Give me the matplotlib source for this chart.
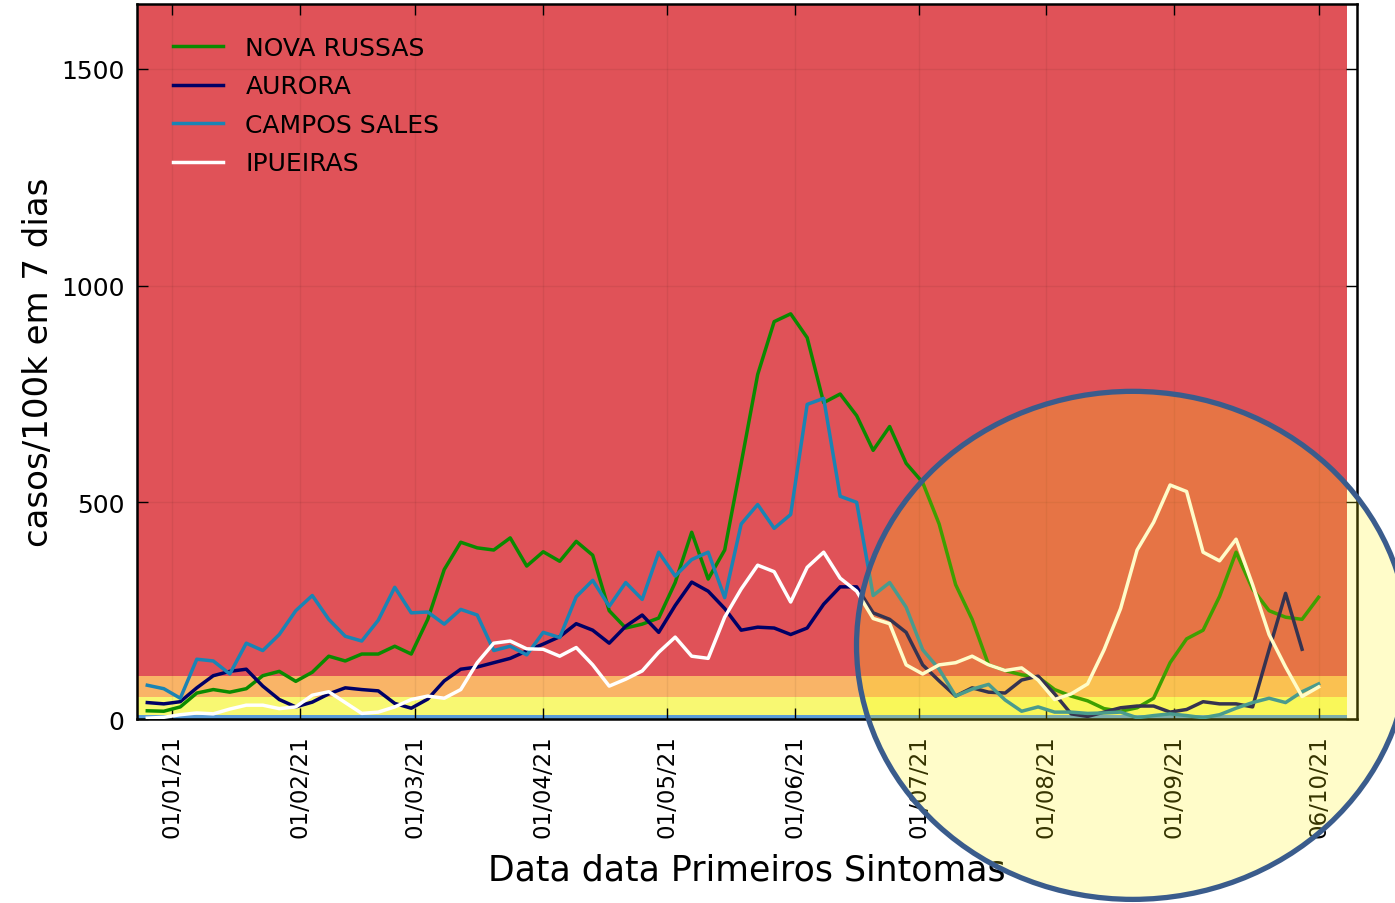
import numpy as np
import pandas as pd
import matplotlib
matplotlib.use("Agg")
import matplotlib.pyplot as plt
import matplotlib.dates as mdates
from matplotlib.patches import Ellipse

# one value every 4 days, 26/12/2020 -> 06/10/2021
dates = pd.date_range("2020-12-26", "2021-10-06", freq="4D")

nova_russas = [19, 18, 28, 60, 68, 62, 70, 100, 110, 87,
               108, 145, 134, 150, 150, 168, 150, 230, 345, 408,
               395, 390, 418, 353, 386, 364, 410, 378, 250, 210,
               219, 233, 315, 431, 323, 390, 590, 795, 917, 935,
               880, 730, 750, 700, 620, 675, 590, 546, 450, 310,
               230, 125, 112, 102, 97, 68, 53, 42, 24, 18,
               26, 48, 130, 185, 205, 283, 385, 300, 250, 235,
               230, 281]
aurora = [38, 35, 40, 72, 100, 110, 115, 76, 45, 28,
          39, 58, 72, 68, 65, 36, 25, 46, 88, 115,
          120, 130, 140, 157, 173, 190, 220, 205, 175, 214,
          240, 200, 262, 316, 295, 255, 205, 212, 210, 195,
          210, 265, 305, 305, 245, 230, 200, 125, 88, 53,
          72, 62, 60, 90, 99, 58, 12, 6, 16, 26,
          30, 30, 16, 22, 40, 35, 35, 28, 160, 290,
          161, np.nan]
campos_sales = [78, 70, 48, 138, 134, 104, 175, 158, 195, 250,
                285, 230, 191, 180, 228, 304, 245, 247, 219, 253,
                240, 158, 168, 148, 200, 188, 282, 320, 260, 315,
                276, 385, 330, 368, 385, 280, 450, 495, 440, 472,
                726, 740, 514, 500, 285, 315, 258, 160, 115, 53,
                69, 80, 44, 18, 28, 16, 16, 13, 14, 16,
                3, 8, 12, 8, 3, 10, 25, 38, 48, 38,
                63, 81]
ipueiras = [2, 4, 10, 14, 12, 23, 32, 32, 24, 28,
            55, 63, 38, 13, 16, 28, 45, 53, 48, 68,
            130, 175, 180, 162, 161, 145, 165, 125, 76, 92,
            111, 154, 189, 145, 140, 235, 300, 355, 340, 270,
            350, 385, 325, 295, 232, 220, 125, 104, 125, 130,
            145, 125, 112, 118, 90, 45, 58, 81, 160, 255,
            390, 454, 540, 525, 385, 365, 415, 310, 195, 120,
            52, 74]

names = ["NOVA RUSSAS", "AURORA", "CAMPOS SALES", "IPUEIRAS"]
colors = ["#0b8a00", "#000066", "#1a84b4", "white"]

# risk bands (casos/100k)
band_edges = [0, 10, 50, 100, 1650]
band_colors = ["#5b9bd8", "#f8f872", "#f9b467", "#e05258"]

tick_dates = pd.to_datetime(["2021-01-01", "2021-02-01", "2021-03-01", "2021-04-01",
                             "2021-05-01", "2021-06-01", "2021-07-01", "2021-08-01",
                             "2021-09-01", "2021-10-06"])

fig = plt.figure(figsize=(13.95, 9.04), dpi=100)
ax = fig.add_axes([0.0982, 0.2035, 0.8746, 0.791])

x_left = pd.Timestamp("2020-12-23 12:00")
x_right = pd.Timestamp("2021-10-15 08:00")
band_x = [x_left, pd.Timestamp("2021-10-13")]
for lo, hi, c in zip(band_edges[:-1], band_edges[1:], band_colors):
    ax.fill_between(band_x, lo, hi, color=c, lw=0, zorder=0.5)

for vals, name, c in zip([nova_russas, aurora, campos_sales, ipueiras], names, colors):
    ax.plot(dates, vals, color=c, lw=2.5, label=name, zorder=3)

ax.set_xlim(x_left, x_right)
ax.set_ylim(0, 1650)
ax.set_yticks([0, 500, 1000, 1500])
ax.set_xticks(tick_dates)
ax.xaxis.set_major_formatter(mdates.DateFormatter("%d/%m/%y"))
ax.tick_params(axis="x", labelrotation=90, labelsize=16.5, pad=11)
ax.tick_params(axis="y", labelsize=18, pad=9)
ax.tick_params(direction="in", top=True, right=True, length=8, width=1)
ax.grid(True, color="k", alpha=0.06, lw=1)
for s in ax.spines.values():
    s.set_linewidth(1.8)

ax.set_ylabel("casos/100k em 7 dias", fontsize=24.5, labelpad=4)
ax.set_xlabel("Data data Primeiros Sintomas", fontsize=25, labelpad=11)

ax.legend(loc="upper left", bbox_to_anchor=(0.011, 0.987), frameon=False,
          fontsize=18, handlelength=2.0, handletextpad=0.9, labelspacing=0.58)

# highlight circle over the end of the series
circ = Ellipse((0.812, 0.285), 0.396, 0.562, transform=fig.transFigure,
               facecolor=(1.0, 0.96, 0.0, 0.21), edgecolor="#3a5c8c",
               lw=3.8, zorder=100, clip_on=False)
fig.add_artist(circ)

fig.savefig("out.png", dpi=100)
